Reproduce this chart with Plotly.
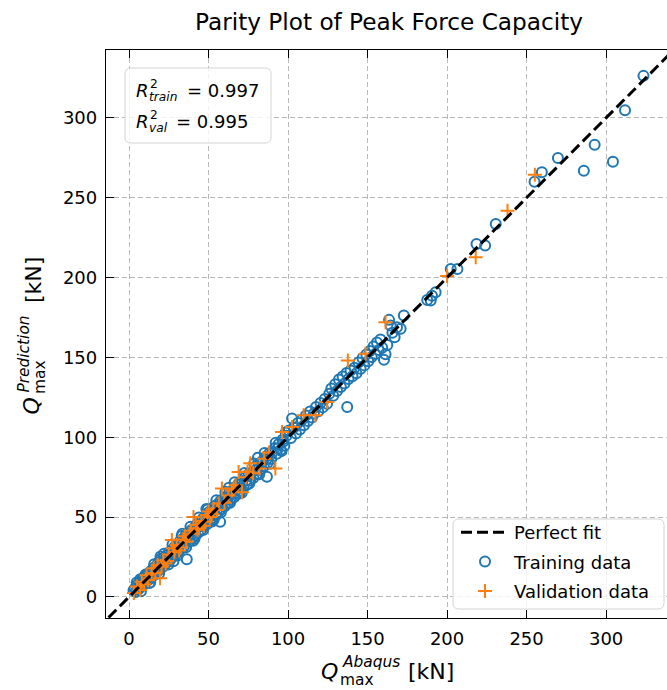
import plotly.graph_objects as go

# ---------------- data ----------------
train_actual = [
    2.8, 3.5, 4.2, 5.0, 5.8, 6.0, 6.5, 7.1, 7.9, 8.6, 9.0, 9.3, 10.0, 10.8, 11.5, 11.9,
    12.2, 13.0, 13.8, 14.5, 14.9, 15.3, 16.0, 16.9, 17.6, 17.8, 18.4, 19.2, 20.1, 20.9,
    21.0, 21.7, 22.5, 23.4, 23.8, 24.2, 25.1, 25.9, 26.5, 26.8, 27.6, 28.5, 29.0, 29.3,
    30.2, 31.1, 31.7, 32.0, 32.9, 33.7, 34.2, 34.6, 35.5, 36.3, 36.9, 37.2, 38.1, 39.0,
    39.5, 39.9, 40.8, 41.7, 42.0, 42.6, 43.5, 44.4, 44.9, 45.3, 46.2, 47.1, 47.5, 48.0,
    49.0, 49.9, 50.3, 50.8, 51.7, 52.7, 53.0, 53.6, 54.5, 55.5, 55.9, 56.4, 57.3, 57.4,
    58.3, 58.8, 59.3, 60.2, 61.2, 61.6, 62.1, 63.1, 64.1, 64.5, 65.0, 66.0, 67.0, 67.4,
    68.0, 69.0, 70.0, 70.5, 71.0, 72.0, 73.0, 73.6, 74.1, 75.1, 76.1, 76.7, 77.2, 78.2,
    79.3, 79.8, 80.4, 81.5, 82.6, 83.0, 83.7, 84.8, 85.9, 86.2, 86.7, 87.1, 88.2, 89.4,
    89.9, 91.7, 92.9, 93.5, 94.1, 95.3, 96.5, 97.0, 97.7, 99.0,
    4.8, 7.5, 10.4, 13.3, 15.8, 18.9, 22.0, 24.7, 27.3, 30.6, 33.1, 35.9, 38.6, 41.2,
    43.9, 46.6, 49.4, 52.2, 54.9, 57.7, 60.6, 63.5, 66.4, 69.5, 72.5, 75.6, 78.7, 81.9,
    85.2, 88.6, 92.2, 95.9, 98.5, 7.0, 12.8, 19.8, 27.9, 33.5, 40.3, 48.6, 53.2, 62.8,
    70.9, 81.0,
    100.5, 101.8, 102.5, 103.6, 105.0, 106.2, 107.4, 108.7, 110.0, 111.2, 112.5, 113.8,
    115.0, 116.3, 117.6, 119.0, 120.4, 121.8, 123.1, 124.5, 125.9, 127.2, 128.4, 129.6,
    130.8, 132.0, 133.2, 134.3, 135.5, 136.8, 137.2, 138.0, 139.3, 140.5, 141.8, 143.0,
    144.3, 145.6, 146.8, 148.0, 149.2, 150.4, 151.5, 152.6, 153.7, 154.8, 155.9, 157.0,
    158.1, 159.2, 160.3, 161.3, 162.4, 163.5, 164.5, 165.6, 167.0, 168.5, 170.8, 172.8,
    187.5, 189.7, 190.5, 192.8, 202.3, 206.5, 218.5, 223.9, 230.6, 255.0, 259.6, 269.7,
    286.0, 292.8, 304.3, 311.9, 323.5,
]
train_pred = [
    4.0, 5.2, 3.1, 7.4, 4.6, 5.5, 8.9, 6.0, 10.8, 7.2, 9.8, 12.1, 8.5, 13.4, 10.1, 12.5,
    14.6, 11.2, 16.3, 12.7, 15.4, 18.0, 14.1, 19.2, 15.8, 18.9, 21.5, 17.0, 23.9, 18.6,
    21.3, 24.4, 20.1, 26.0, 24.5, 21.8, 27.9, 23.2, 27.0, 29.4, 25.1, 31.2, 29.8, 26.4,
    32.8, 28.3, 32.0, 34.9, 30.1, 36.2, 34.8, 31.5, 38.4, 23.6, 37.5, 39.7, 35.0, 41.8,
    39.2, 36.9, 43.1, 38.6, 42.7, 45.3, 40.2, 47.0, 45.0, 42.1, 48.8, 43.9, 47.9, 50.6,
    45.5, 52.9, 50.1, 47.6, 54.3, 49.4, 53.6, 56.8, 51.0, 57.9, 55.4, 53.2, 47.0, 60.1,
    55.0, 59.2, 61.4, 56.8, 62.9, 61.0, 58.7, 64.8, 60.9, 65.1, 66.7, 62.4, 68.8, 67.0,
    64.6, 71.2, 66.5, 70.8, 72.4, 68.3, 74.9, 73.1, 70.2, 76.8, 72.9, 77.3, 78.1, 74.7,
    81.6, 79.5, 77.0, 83.2, 79.4, 83.4, 85.0, 81.9, 87.8, 86.0, 75.2, 84.0, 89.9, 86.3,
    90.3, 93.2, 89.6, 93.0, 95.8, 92.0, 98.4, 97.4, 94.7, 100.9,
    9.0, 3.6, 14.0, 9.1, 20.4, 14.6, 27.1, 20.3, 32.9, 26.0, 38.2, 31.1, 43.9, 36.5,
    49.7, 41.9, 54.8, 47.3, 60.5, 52.8, 65.9, 58.9, 71.8, 64.7, 77.6, 71.0, 83.5, 76.8,
    90.1, 83.4, 96.6, 91.3, 103.0, 11.0, 8.7, 25.3, 22.4, 39.6, 35.2, 55.0, 48.1, 68.4,
    65.3, 87.2,
    104.2, 99.5, 111.7, 106.0, 102.3, 108.9, 104.8, 111.0, 107.5, 113.6, 110.2, 116.1,
    112.4, 114.8, 119.0, 116.2, 121.5, 118.7, 124.0, 120.9, 127.3, 130.5, 126.0, 133.2,
    129.0, 136.1, 131.4, 138.0, 133.6, 140.2, 119.0, 136.5, 141.8, 138.2, 143.5, 140.1,
    146.8, 142.9, 149.5, 145.0, 151.8, 147.6, 154.0, 150.3, 156.9, 152.1, 159.3, 154.6,
    161.2, 156.0, 148.5, 152.0, 157.8, 173.5, 170.0, 165.4, 162.6, 168.9, 167.9, 176.3,
    186.0, 185.6, 188.6, 190.8, 205.4, 205.4, 221.0, 220.0, 233.5, 260.0, 266.0, 274.8,
    266.9, 283.1, 272.5, 304.8, 326.3,
]
val_actual = [
    3.0, 5.0, 6.9, 9.5, 12.0, 14.2, 16.5, 18.0, 19.5, 21.5, 23.0, 25.0, 26.9, 28.5,
    30.0, 32.5, 34.0, 36.0, 38.0, 40.5, 43.0, 45.5, 47.0, 49.0, 51.0, 53.0, 55.3,
    58.4, 60.0, 62.5, 64.7, 65.7, 68.9, 71.0, 73.5, 76.2, 78.0, 82.0, 85.0, 92.0,
    96.2, 102.5, 109.8, 117.2, 124.6, 137.6, 148.7, 161.3, 200.0, 218.0, 238.0, 255.2,
    8.0, 11.0, 15.5, 20.5, 24.0, 27.5, 31.5, 35.0, 39.0, 42.0, 44.0, 48.0, 50.0,
    52.0, 56.5, 67.0, 74.5, 88.0,
]
val_pred = [
    2.5, 6.5, 4.4, 8.0, 10.5, 14.9, 15.0, 20.0, 11.7, 22.8, 21.0, 26.5, 35.6, 28.0,
    32.5, 31.0, 36.0, 34.5, 39.5, 50.0, 42.0, 47.5, 44.5, 51.3, 50.0, 55.0, 54.4,
    67.9, 59.0, 63.5, 66.7, 67.9, 78.3, 65.6, 75.0, 83.7, 77.5, 80.5, 86.5, 80.4,
    103.3, 106.4, 113.8, 113.8, 122.0, 148.0, 152.3, 172.0, 201.0, 212.7, 241.9, 264.4,
    9.5, 13.5, 18.0, 19.0, 22.5, 30.5, 29.0, 38.0, 41.5, 45.0, 43.0, 47.0, 53.5,
    52.0, 58.5, 70.0, 78.5, 90.5,
]
fit_line = [-20, 360]
tick_vals = [0, 50, 100, 150, 200, 250, 300]
r2_train = 0.997
r2_val = 0.995

# ---------------- layout helpers ----------------
FONT = "DejaVu Sans"
W, H = 667, 690
L, R, T, B = 106, 0, 50, 72
X_RANGE = [-14.5, 338.3]
Y_RANGE = [-13.2, 342.5]


def px(x):
    return (x - L) / (W - L - R)


def py(y):
    return (H - B - y) / (H - T - B)


def txt(s, x, y, size, xanchor="left", yanchor="middle", angle=0):
    return dict(text=s, x=px(x), y=py(y), xref="paper", yref="paper",
                showarrow=False, xanchor=xanchor, yanchor=yanchor,
                textangle=angle, borderpad=0,
                font=dict(size=size, family=FONT, color="black"))


def rrect(x0, y0, x1, y1, r):
    p = (f"M {px(x0+r)},{py(y0)} L {px(x1-r)},{py(y0)} "
         f"Q {px(x1)},{py(y0)} {px(x1)},{py(y0+r)} L {px(x1)},{py(y1-r)} "
         f"Q {px(x1)},{py(y1)} {px(x1-r)},{py(y1)} L {px(x0+r)},{py(y1)} "
         f"Q {px(x0)},{py(y1)} {px(x0)},{py(y1-r)} L {px(x0)},{py(y0+r)} "
         f"Q {px(x0)},{py(y0)} {px(x0+r)},{py(y0)} Z")
    return dict(type="path", path=p, xref="paper", yref="paper", layer="above",
                fillcolor="rgba(255,255,255,0.8)",
                line=dict(color="#d4d4d4", width=1))


fig = go.Figure()
fig.add_trace(go.Scatter(
    x=train_actual, y=train_pred, mode="markers", name="Training data",
    legendgroup="b", legendrank=2,
    marker=dict(symbol="circle-open", size=10, color="#1f77b4",
                line=dict(width=2, color="#1f77b4"))))
fig.add_trace(go.Scatter(
    x=val_actual, y=val_pred, mode="markers", name="Validation data",
    legendgroup="c", legendrank=3,
    marker=dict(symbol="cross-thin-open", size=10, color="#ff7f0e",
                line=dict(width=2, color="#ff7f0e"))))
fig.add_trace(go.Scatter(
    x=fit_line, y=fit_line, mode="lines", name="Perfect fit",
    legendgroup="a", legendrank=1,
    line=dict(color="black", width=3, dash="11px,5px")))

axis_common = dict(
    tickvals=tick_vals, ticks="inside", ticklen=8, tickwidth=1.3,
    tickcolor="black", showline=True, linecolor="black", linewidth=1.3,
    showgrid=True, gridcolor="#b8b8b8", gridwidth=1, griddash="5px,3px",
    zeroline=False, tickfont=dict(size=18, family=FONT, color="black"),
    ticklabelstandoff=4, automargin=False,
)
fig.update_xaxes(range=X_RANGE, mirror="allticks", **axis_common)
fig.update_yaxes(range=Y_RANGE, **axis_common)

annotations = [
    # x-axis label
    txt("<i>Q</i>", 320, 671, 22),
    txt("<i>Abaqus</i>", 341, 662, 15.4),
    txt("max", 339, 680, 15.4),
    txt("[kN]", 407, 671, 22),
    # y-axis label (rotated)
    txt("<i>Q</i>", 31, 416, 22, xanchor="center", yanchor="bottom", angle=-90),
    txt("<i>Prediction</i>", 23, 394, 15.4, xanchor="center", yanchor="bottom", angle=-90),
    txt("max", 40, 395, 15.4, xanchor="center", yanchor="bottom", angle=-90),
    txt("[kN]", 33, 304, 22, xanchor="center", yanchor="bottom", angle=-90),
    # R^2 box
    txt("<i>R</i>", 135, 90, 18),
    txt("2", 149, 84, 12.2),
    txt("<i>train</i>", 148, 97, 12.2),
    txt(f"= {r2_train:.3f}", 186, 90, 18),
    txt("<i>R</i>", 135, 121, 18),
    txt("2", 149, 115, 12.2),
    txt("<i>val</i>", 148, 128, 12.2),
    txt(f"= {r2_val:.3f}", 175, 121, 18),
]

fig.update_layout(
    width=W, height=H,
    margin=dict(l=L, r=R, t=T, b=B, pad=0, autoexpand=False),
    paper_bgcolor="white", plot_bgcolor="white",
    font=dict(family=FONT, color="black"),
    title=dict(text="Parity Plot of Peak Force Capacity",
               font=dict(size=23.2, family=FONT, color="black"),
               x=px(389), xref="paper", xanchor="center",
               y=1 - 21.7 / H, yref="container", yanchor="middle"),
    legend=dict(x=px(456), y=py(514), xanchor="left", yanchor="top",
                bgcolor="rgba(0,0,0,0)", borderwidth=0,
                font=dict(size=18, family=FONT, color="black"),
                traceorder="grouped", tracegroupgap=3, itemwidth=48),
    shapes=[rrect(125, 68, 271, 143, 6), rrect(453, 519, 664, 609, 6)],
    annotations=annotations,
)

fig.write_html(
    "out.html",
    config={"displayModeBar": False},
    post_script="document.body.style.margin='0';document.body.style.overflow='hidden';",
)
